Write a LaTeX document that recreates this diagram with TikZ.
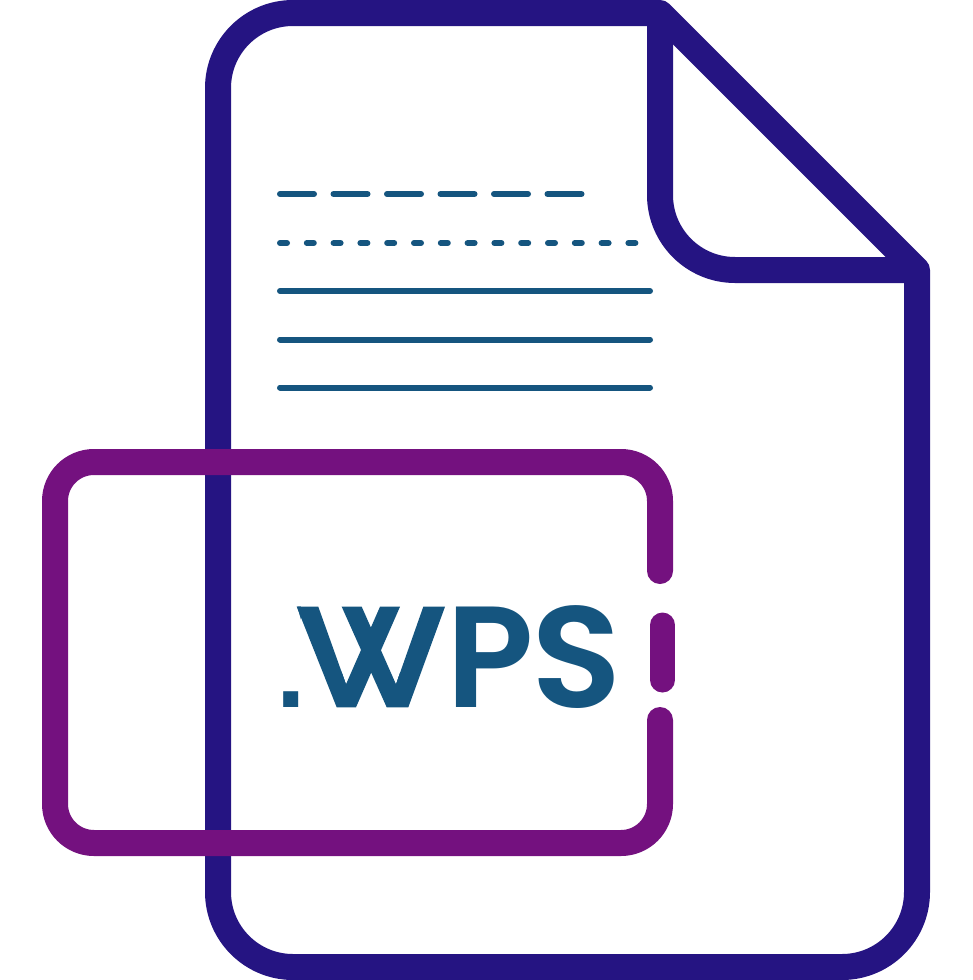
\documentclass[tikz,border=0pt]{standalone}
\usepackage{fontspec}
\setmainfont{Poppins}[UprightFont=* SemiBold]
\newfontfamily\dotfont{Liberation Sans Bold}
\definecolor{navy}{HTML}{251482}
\definecolor{plum}{HTML}{74117F}
\definecolor{steel}{HTML}{15557F}
\tikzset{
  docline/.style={draw=navy,line width=26pt,line join=round},
  tagline/.style={draw=plum,line width=26pt,line cap=round,line join=round},
  textline/.style={draw=steel,line width=6pt,line cap=round},
  label/.style={text=steel,inner sep=0pt,anchor=base west,font=\fontsize{144}{144}\selectfont}
}
\begin{document}
\begin{tikzpicture}[x=1pt,y=-1pt]
\useasboundingbox (0,0) rectangle (973,980);
% document outline
\draw[docline] (218,88) arc[start angle=180,end angle=270,radius=75] -- (660,13) -- (917,270) -- (917,892)
  arc[start angle=0,end angle=90,radius=75] -- (293,967) arc[start angle=90,end angle=180,radius=75] -- cycle;
% folded corner
\draw[docline] (660,13) -- (660,195) arc[start angle=180,end angle=90,radius=75] -- (917,270);
% text lines
\draw[textline,dash pattern=on 34pt off 19.5pt] (280,194) -- (582,194);
\draw[textline,dash pattern=on 7pt off 19.8pt] (280,243) -- (636,243);
\draw[textline] (280,291) -- (650,291);
\draw[textline] (280,339.5) -- (650,339.5);
\draw[textline] (280,387.5) -- (650,387.5);
% tag outline
\draw[tagline] (660,571) -- (660,501) arc[start angle=0,end angle=-90,radius=39] -- (94,462)
  arc[start angle=270,end angle=180,radius=39] -- (55,804) arc[start angle=180,end angle=90,radius=39]
  -- (621,843) arc[start angle=90,end angle=0,radius=39] -- (660,720);
\draw[draw=plum,line width=25pt,line cap=round] (662.5,625) -- (662.5,680);
% label
\node[label] (ext) at (276.4,707.5) {{\dotfont\fontsize{106}{106}\selectfont.}\kern-11.9pt\scalebox{1.035}[1]{W}\kern0ptP\kern-3pt\scalebox{1.03}[1]{S}};
% crossed strokes of the W
\fill[white] (318,604) -- (423,604) -- (396,684) -- (408,710) -- (337,710) -- (346,684) -- cycle;
\fill[white] (301,604) -- (340,604) -- (340,712) -- (301,712) -- cycle;
\fill[white] (405,604) -- (448,604) -- (448,712) -- (405,712) -- cycle;
\fill[steel] (296.7,606.7) -- (318.3,606.7) -- (346,684.3) -- (380,606.7) -- (400,606.7) -- (356,707.3) -- (336.7,707.3) -- cycle;
\fill[steel] (341.7,606.7) -- (361.7,606.7) -- (396,684.3) -- (423.3,606.7) -- (445,606.7) -- (408.3,707.3) -- (386.7,707.3) -- cycle;
\end{tikzpicture}
\end{document}
